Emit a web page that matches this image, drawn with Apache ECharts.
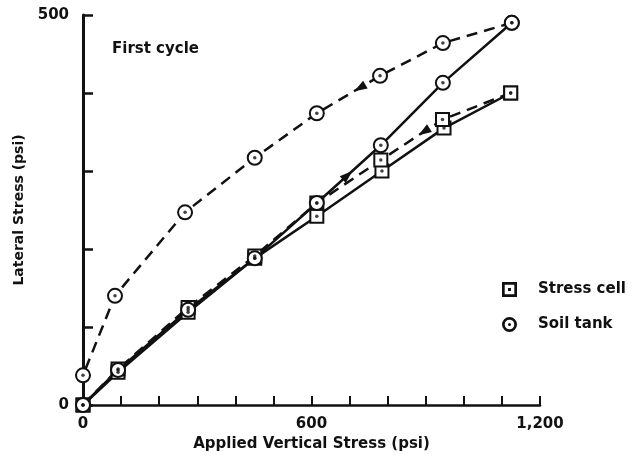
<!DOCTYPE html>
<html>
<head>
<meta charset="utf-8">
<style>
  html, body { margin: 0; padding: 0; background: #fff; }
  #chart { width: 634px; height: 468px; }
</style>
<script src="https://cdn.jsdelivr.net/npm/echarts@6/dist/echarts.min.js"></script>
</head>
<body>
<div id="chart"></div>
<script>
// Data (psi)
const stressCellLoadX   = [0, 92, 276, 451, 614, 785, 948, 1123];
const stressCellLoadY   = [0, 42, 119, 188, 242, 300, 355, 400];
const stressCellUnloadX = [1123, 944, 782, 614, 451, 276, 92, 0];
const stressCellUnloadY = [400, 366, 314, 259, 191, 125, 46, 0];
const soilTankLoadX     = [0, 92, 276, 451, 614, 782, 945, 1126];
const soilTankLoadY     = [0, 45, 122, 188, 259, 333, 413, 490];
const soilTankUnloadX   = [1126, 945, 780, 614, 451, 268, 84, 0];
const soilTankUnloadY   = [490, 464, 422, 374, 317, 247, 140, 38];
const xLabeled = [0, 600, 1200];
const yLabeled = [0, 500];
// direction arrows: [series index, segment start index, fraction along segment]
const arrowSpots = [[1, 1, 0.3], [2, 4, 0.48], [3, 2, 0.32]];

const pairs = (xs, ys) => xs.map((x, i) => [x, ys[i]]);
const FONT = '"DejaVu Sans", Verdana, sans-serif';
const INK = '#111';

const squareIcon = 'path://M0,0H10V10H0Z M1.8,1.8V8.2H8.2V1.8Z M4,4H6V6H4Z';
const circleIcon = 'path://M5,0A5,5 0 1,1 5,10A5,5 0 1,1 5,0Z M5,1.8A3.2,3.2 0 1,0 5,8.2A3.2,3.2 0 1,0 5,1.8Z M5,4A1,1 0 1,1 5,6A1,1 0 1,1 5,4Z';

const seriesData = [
  pairs(stressCellLoadX, stressCellLoadY),
  pairs(stressCellUnloadX, stressCellUnloadY),
  pairs(soilTankLoadX, soilTankLoadY),
  pairs(soilTankUnloadX, soilTankUnloadY)
];

const lineSeries = (name, data, symbol, dashed) => ({
  name: name,
  type: 'line',
  data: data,
  symbol: symbol,
  symbolSize: symbol === 'emptyRect' ? 13 : 14,
  showAllSymbol: true,
  lineStyle: { color: INK, width: 2.5, type: dashed ? [11, 7] : 'solid' },
  itemStyle: { color: INK, borderColor: INK, borderWidth: 2.5 },
  z: 3,
  animation: false
});

const allPoints = [].concat(...seriesData);

const chart = echarts.init(document.getElementById('chart'));
chart.setOption({
  animation: false,
  backgroundColor: '#fff',
  grid: { left: 83, right: 94, top: 15, bottom: 63, containLabel: false },
  title: {
    text: 'First cycle',
    left: 107, top: 37,
    textStyle: { fontFamily: FONT, fontWeight: 'bold', fontSize: 15, color: INK }
  },
  legend: {
    orient: 'vertical',
    left: 497, top: 277,
    itemGap: 20,
    itemWidth: 15, itemHeight: 15,
    selectedMode: false,
    textStyle: { fontFamily: FONT, fontWeight: 'bold', fontSize: 15, color: INK, padding: [0, 0, 0, 16] },
    data: [
      { name: 'Stress cell', icon: squareIcon, itemStyle: { color: INK, borderWidth: 0 } },
      { name: 'Soil tank', icon: circleIcon, itemStyle: { color: INK, borderWidth: 0 } }
    ]
  },
  xAxis: {
    type: 'value',
    min: 0, max: 1200, interval: 100,
    name: 'Applied Vertical Stress (psi)',
    nameLocation: 'middle',
    nameGap: 26,
    nameTextStyle: { fontFamily: FONT, fontWeight: 'bold', fontSize: 15, color: INK },
    axisLine: { show: true, lineStyle: { color: INK, width: 2.5 } },
    axisTick: { show: true, inside: true, length: 9, lineStyle: { color: INK, width: 2 } },
    axisLabel: {
      margin: 12,
      fontFamily: FONT, fontWeight: 'bold', fontSize: 15, color: INK,
      formatter: v => xLabeled.indexOf(v) >= 0 ? v.toLocaleString('en-US') : ''
    },
    splitLine: { show: false }
  },
  yAxis: {
    type: 'value',
    min: 0, max: 500, interval: 100,
    name: 'Lateral Stress (psi)',
    nameLocation: 'middle',
    nameGap: 53,
    nameTextStyle: { fontFamily: FONT, fontWeight: 'bold', fontSize: 14, color: INK },
    axisLine: { show: true, lineStyle: { color: INK, width: 3 } },
    axisTick: { show: true, inside: true, length: 10, lineStyle: { color: INK, width: 2.5 } },
    axisLabel: {
      margin: 14,
      fontFamily: FONT, fontWeight: 'bold', fontSize: 15, color: INK,
      formatter: v => yLabeled.indexOf(v) >= 0 ? String(v) : ''
    },
    splitLine: { show: false }
  },
  series: [
    lineSeries('Stress cell', seriesData[0], 'emptyRect', false),
    lineSeries('Stress cell', seriesData[1], 'emptyRect', true),
    lineSeries('Soil tank', seriesData[2], 'emptyCircle', false),
    lineSeries('Soil tank', seriesData[3], 'emptyCircle', true),
    {
      name: 'dots',
      type: 'scatter',
      data: allPoints,
      symbol: 'circle',
      symbolSize: 3.5,
      itemStyle: { color: INK },
      z: 5,
      silent: true
    }
  ]
});

// direction arrowheads placed along data segments
const marks = [[], [], [], []];
arrowSpots.forEach(([si, k, f]) => {
  const a = seriesData[si][k], b = seriesData[si][k + 1];
  const c = [a[0] + (b[0] - a[0]) * f, a[1] + (b[1] - a[1]) * f];
  const pa = chart.convertToPixel({ gridIndex: 0 }, a);
  const pb = chart.convertToPixel({ gridIndex: 0 }, b);
  const ang = Math.atan2(-(pb[1] - pa[1]), pb[0] - pa[0]) * 180 / Math.PI - 90;
  marks[si].push({ coord: c, symbol: 'triangle', symbolSize: [9, 13], symbolRotate: ang,
                   itemStyle: { color: INK }, label: { show: false } });
});
chart.setOption({
  series: marks.map(m => ({ markPoint: { silent: true, data: m, label: { show: false } } }))
});
</script>
</body>
</html>
